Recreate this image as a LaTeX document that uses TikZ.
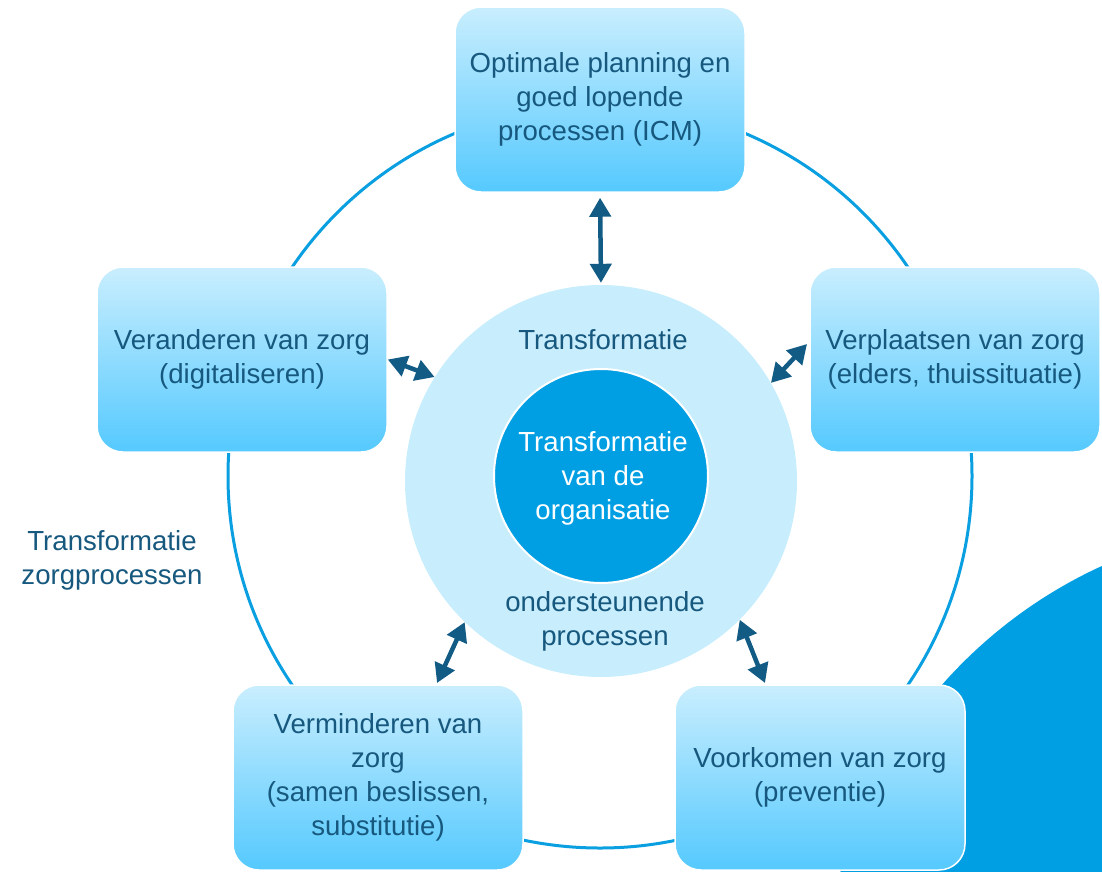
\documentclass[tikz,border=0pt]{standalone}
\usepackage{fontspec}
\setmainfont{Liberation Sans}
\usetikzlibrary{arrows.meta,calc}
\definecolor{txt}{HTML}{16587E}
\definecolor{ringc}{HTML}{0A9FE0}
\definecolor{lightc}{HTML}{C8EDFC}
\definecolor{darkc}{HTML}{009FE3}
\definecolor{boxtop}{HTML}{C9EEFE}
\definecolor{boxbot}{HTML}{55C9FE}
\definecolor{arr}{HTML}{125B84}
\begin{document}
\begin{tikzpicture}[x=1pt,y=-1pt,
 box/.style={rounded corners=26pt, minimum width=290pt, minimum height=185pt,
   top color=boxtop, bottom color=boxbot, draw=white, line width=1.5pt,
   text=txt, align=center, font=\fontsize{27.6}{34}\selectfont, inner sep=0pt},
 lbl/.style={text=txt, align=center, font=\fontsize{27.6}{34}\selectfont, inner sep=0pt},
 dbl/.style={{Triangle[length=19pt,width=21pt]}-{Triangle[length=19pt,width=21pt]},
   draw=arr, line width=4.5pt}
]
\useasboundingbox (0,0) rectangle (1102,871);
\clip (0,0) rectangle (1102,871);
% big background shape
\fill[darkc] (1300,1000) circle[radius=477];
% ring
\draw[ringc, line width=3pt] (600,476) circle[radius=372];
% circles
\node[circle, fill=lightc, minimum size=392pt, inner sep=0pt] (lc) at (601,481) {};
\node[circle, fill=darkc, draw=white, line width=2pt, minimum size=214pt, inner sep=0pt] (dc) at (601,476) {};
\node[lbl] (t1) at (603,340) {Transformatie};
\node[lbl] (t2) at (605,621) {ondersteunende\\processen};
\node[lbl, text=white] (t3) at (603,478) {Transformatie\\van de\\organisatie};
% boxes
\node[box] (top) at (600,99.5) {Optimale planning en\\goed lopende\\processen (ICM)};
\node[box] (left) at (242,359.5) {Veranderen van zorg\\(digitaliseren)};
\node[box] (right) at (955,359.5) {Verplaatsen van zorg\\(elders, thuissituatie)};
\node[box] (bl) at (378,777.5) {Verminderen van\\zorg\\(samen beslissen,\\substitutie)};
\node[box] (br) at (820,777.5) {Voorkomen van zorg\\(preventie)};
\node[lbl] (side) at (112,560) {Transformatie\\zorgprocessen};
% arrow ends
\coordinate (rs) at (807,344);
\coordinate (ble) at (437,683);
\coordinate (bre) at (765,683);
% arrows
\draw[dbl, shorten <=5pt, shorten >=2pt] (top.south) -- (lc.north);
\draw[dbl] (left.east) -- (lc.148);
\draw[dbl] (rs) -- (lc.30);
\draw[dbl] (lc.226) -- (ble);
\draw[dbl] (lc.-45) -- (bre);
\end{tikzpicture}
\end{document}
